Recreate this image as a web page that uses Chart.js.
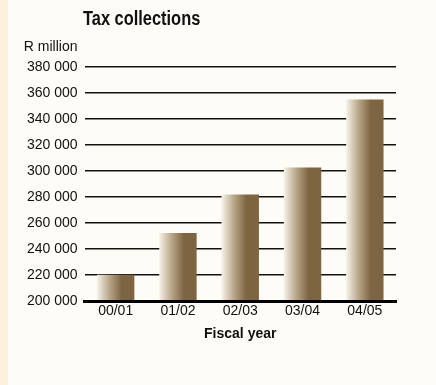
<!DOCTYPE html>
<html>
<head>
<meta charset="utf-8">
<script src="https://cdn.jsdelivr.net/npm/chart.js@4.4.1/dist/chart.umd.min.js"></script>
<style>
  html, body { margin: 0; padding: 0; background: #FEFCF7; }
  #wrap { position: relative; width: 436px; height: 385px; background: #FEFCF7; border-left: 8px solid #FDF1DC; box-sizing: border-box; }
  #holder { position: absolute; left: -8px; top: 0; width: 436px; height: 385px; }
</style>
</head>
<body>
<div id="wrap"><div id="holder"><canvas id="taxChart"></canvas></div></div>
<script>
  // fiscal years and tax collections (R million)
  var years = ["00/01", "01/02", "02/03", "03/04", "04/05"];
  var collections = [220300, 252300, 281900, 302500, 354900];
  var yTicks = [200000, 220000, 240000, 260000, 280000, 300000, 320000, 340000, 360000, 380000];

  var chartTitle = "Tax collections";
  var unitLabel = "R million";
  var xTitle = "Fiscal year";

  function spaced(v){
    return String(v).replace(/\B(?=(\d{3})+(?!\d))/g, " ");
  }

  // cream -> brown shading across each bar
  function barGradient(context){
    var chart = context.chart;
    var xs = chart.scales.x;
    if(!xs || !chart.chartArea) return "#7D6542";
    var cx = xs.getPixelForValue(context.dataIndex);
    var half = (xs.width / years.length) * 0.6 / 2;
    var g = chart.ctx.createLinearGradient(cx - half, 0, cx + half, 0);
    g.addColorStop(0, "#F7F2E8");
    g.addColorStop(0.35, "#B5A284");
    g.addColorStop(0.66, "#7D6542");
    g.addColorStop(1, "#7D6542");
    return g;
  }

  var headerText = {
    id: "headerText",
    afterDraw(chart){
      var ctx = chart.ctx;
      ctx.save();
      ctx.fillStyle = "#111";
      ctx.textBaseline = "alphabetic";
      ctx.textAlign = "left";
      // condensed look: squeeze the bold face horizontally
      ctx.translate(83, 25);
      ctx.scale(0.82, 1);
      ctx.font = "bold 20px 'Liberation Sans', Arial, sans-serif";
      ctx.fillText(chartTitle, 0, 0);
      ctx.restore();

      ctx.save();
      ctx.fillStyle = "#111";
      ctx.textAlign = "right";
      ctx.font = "14px 'Liberation Sans', Arial, sans-serif";
      ctx.fillText(unitLabel, 77.5, 51);
      ctx.restore();
    }
  };

  var ctxTax = document.getElementById("taxChart").getContext("2d");

  var taxChart = new Chart(ctxTax, {
    type: "bar",
    data: {
      labels: years,
      datasets: [{
        data: collections,
        backgroundColor: barGradient,
        borderWidth: 0,
        barPercentage: 0.6,
        categoryPercentage: 1
      }]
    },
    options: {
      responsive: true,
      maintainAspectRatio: false,
      animation: false,
      layout: { padding: { top: 66.7, right: 40, bottom: 42, left: 0 } },
      plugins: {
        legend: { display: false },
        tooltip: { enabled: false }
      },
      scales: {
        x: {
          grid: { display: false, drawTicks: false },
          border: { display: true, color: "#000", width: 3, z: 1 },
          ticks: {
            color: "#111",
            padding: 2,
            font: { family: "'Liberation Sans', Arial, sans-serif", size: 14 }
          },
          title: {
            display: true,
            text: xTitle,
            color: "#111",
            padding: { top: 4.3, bottom: 0 },
            font: { family: "'Liberation Sans', Arial, sans-serif", size: 14, weight: "bold" }
          }
        },
        y: {
          min: yTicks[0],
          max: yTicks[yTicks.length - 1],
          afterBuildTicks: (axis) => {
            axis.ticks = yTicks.map(v => ({ value: v }));
          },
          afterFit: (axis) => {
            axis.width = 84.5;
          },
          grid: { color: "#111", lineWidth: 1.6, drawTicks: false },
          border: { display: false },
          ticks: {
            color: "#111",
            padding: 7,
            font: { family: "'Liberation Sans', Arial, sans-serif", size: 14 },
            callback: (v) => spaced(v)
          }
        }
      }
    },
    plugins: [headerText]
  });
</script>
</body>
</html>
